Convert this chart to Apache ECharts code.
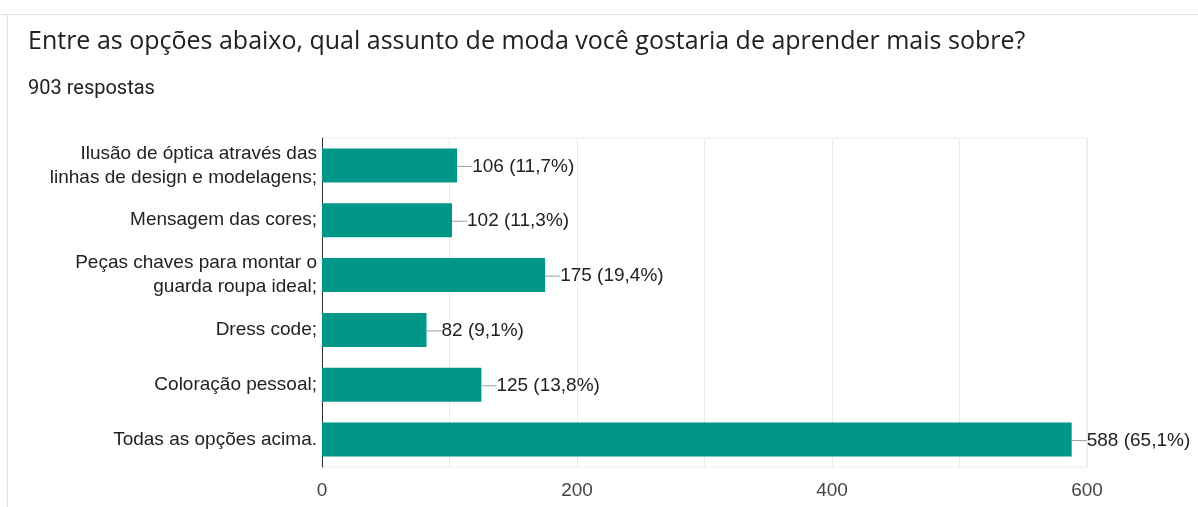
<!DOCTYPE html>
<html>
<head>
<meta charset="utf-8">
<script src="https://cdn.jsdelivr.net/npm/echarts@6/dist/echarts.min.js"></script>
<style>
  html, body { margin: 0; padding: 0; background: #fff; }
  #chart { width: 1198px; height: 507px; }
</style>
</head>
<body>
<div id="chart"></div>
<script>
// dados
var categories = [
    'Ilusão de óptica através das\nlinhas de design e modelagens;',
    'Mensagem das cores;',
    'Peças chaves para montar o\nguarda roupa ideal;',
    'Dress code;',
    'Coloração pessoal;',
    'Todas as opções acima.'
];
var counts = [106, 102, 175, 82, 125, 588];
var percents = ['11,7', '11,3', '19,4', '9,1', '13,8', '65,1'];
var tickLabels = [0, 200, 400, 600];

var labelFont = "'Liberation Sans', Arial, sans-serif";

var dom = document.getElementById('chart');
var myChart = echarts.init(dom);

var option = {
    animation: false,
    backgroundColor: '#fff',
    title: [
        {
            text: 'Entre as opções abaixo, qual assunto de moda você gostaria de aprender mais sobre?',
            left: 28,
            top: 29,
            padding: 0,
            textStyle: {
                fontFamily: "'Open Sans', sans-serif",
                fontSize: 25,
                fontWeight: 'normal',
                color: '#202124'
            }
        },
        {
            text: '903 respostas',
            left: 28,
            top: 79,
            padding: 0,
            textStyle: {
                fontFamily: 'Roboto, sans-serif',
                fontSize: 20,
                fontWeight: 'normal',
                color: '#202124'
            }
        }
    ],
    // borda do cartão
    graphic: [
        { type: 'rect', shape: { x: 0, y: 14, width: 1198, height: 1 }, style: { fill: '#e0e0e0' }, silent: true },
        { type: 'rect', shape: { x: 7, y: 14, width: 1, height: 493 }, style: { fill: '#e0e0e0' }, silent: true }
    ],
    grid: {
        left: 322,
        right: 111,
        top: 138,
        bottom: 40,
        show: true,
        borderColor: '#ebebeb',
        borderWidth: 1
    },
    xAxis: {
        type: 'value',
        min: 0,
        max: 600,
        interval: 100,
        axisLine: { show: false },
        axisTick: { show: false },
        splitLine: { lineStyle: { color: '#ebebeb', width: 1 } },
        axisLabel: {
            margin: 14,
            fontFamily: labelFont,
            fontSize: 19,
            color: '#444',
            formatter: function (v) {
                return tickLabels.indexOf(v) >= 0 ? String(v) : '';
            }
        }
    },
    yAxis: {
        type: 'category',
        inverse: true,
        data: categories,
        axisLine: { show: true, lineStyle: { color: '#333', width: 1 } },
        axisTick: { show: false },
        axisLabel: {
            margin: 5,
            fontFamily: labelFont,
            fontSize: 19,
            lineHeight: 24,
            padding: [5, 0, 0, 0],
            color: '#222',
            align: 'right'
        }
    },
    series: [
        {
            type: 'bar',
            data: counts,
            barWidth: 34,
            itemStyle: { color: '#009688' },
            label: {
                show: true,
                position: 'right',
                distance: 0,
                offset: [0, 1],
                formatter: function (p) {
                    return '{l| }{t|' + p.value + ' (' + percents[p.dataIndex] + '%)}';
                },
                rich: {
                    l: { width: 15, height: 1, backgroundColor: '#9e9e9e' },
                    t: {
                        fontFamily: labelFont,
                        fontSize: 19,
                        color: '#222'
                    }
                }
            }
        }
    ]
};

myChart.setOption(option);
</script>
</body>
</html>
